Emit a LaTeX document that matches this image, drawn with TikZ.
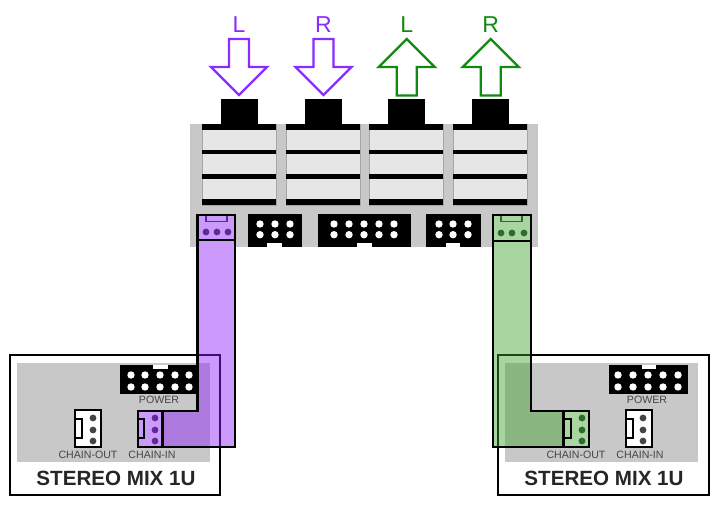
\documentclass[tikz,border=0pt]{standalone}
\usepackage{fontspec}
\setmainfont{Liberation Sans}
\usetikzlibrary{positioning}
\definecolor{plugpurple}{HTML}{8A2BFF}
\definecolor{pluggreen}{HTML}{128A12}
\definecolor{ribbonpurple}{HTML}{8E1DFF}
\definecolor{ribbongreen}{HTML}{3EA22C}
\definecolor{lightpurple}{HTML}{CB9BFB}
\definecolor{lightgreen}{HTML}{A8D5A0}
\definecolor{darkpurple}{HTML}{5E2A96}
\definecolor{darkgreen}{HTML}{2F6B2F}
\definecolor{panelgray}{HTML}{C8C8C8}
\definecolor{cellgray}{HTML}{E6E6E6}
\definecolor{pingray}{HTML}{444444}
\tikzset{
    jacklabel/.style={font=\fontsize{23}{23}\selectfont, inner sep=0pt},
    pinlabel/.style={font=\fontsize{10.6}{10.6}\selectfont, text=pingray, inner sep=0pt},
    unitlabel/.style={font=\bfseries\fontsize{20.6}{20.6}\selectfont, text=black!85, inner sep=0pt},
    inarrow/.style={draw=plugpurple, line width=2.4pt, fill=white, miter limit=4},
    outarrow/.style={draw=pluggreen, line width=2.4pt, fill=white, miter limit=4},
    header/.style={fill=black},
    unitbox/.style={draw=black, line width=2.4pt, fill=white},
    ribbon/.style={draw=black, line width=2.2pt, fill opacity=0.45},
    socket/.style={draw=black, line width=2.2pt},
}

\begin{document}
\begin{tikzpicture}[x=1pt, y=-1pt]
    \useasboundingbox (0,0) rectangle (717,505);

    %Arrows and their labels
    \foreach \cx/\name/\txt in {239/inl/L, 323.5/inr/R} {
        \node[jacklabel, text=plugpurple] (\name) at (\cx,25) {\txt};
        \draw[inarrow] (\cx-10,39) -- (\cx+10,39) -- (\cx+10,67) -- (\cx+28,67) -- (\cx,95)
            -- (\cx-28,67) -- (\cx-10,67) -- cycle;
    }
    \foreach \cx/\name/\txt in {406.7/outl/L, 490.7/outr/R} {
        \node[jacklabel, text=pluggreen] (\name) at (\cx,25) {\txt};
        \draw[outarrow] (\cx,39) -- (\cx+28,67) -- (\cx+10,67) -- (\cx+10,95.5) -- (\cx-10,95.5)
            -- (\cx-10,67) -- (\cx-28,67) -- cycle;
    }

    %Module panel
    \fill[panelgray] (190,124) rectangle (538,247);
    \foreach \lx in {202,286,369,453} {
        \fill[black] (\lx+19,99.5) rectangle (\lx+56,124);
        \fill[cellgray] (\lx,124) rectangle (\lx+74,205);
        \draw[gray!70!white] (\lx,124) rectangle (\lx+74,205);
        \fill[black] (\lx,124) rectangle (\lx+74,130);
        \fill[black] (\lx,150) rectangle (\lx+74,154.5);
        \fill[black] (\lx,174.5) rectangle (\lx+74,178.7);
        \fill[black] (\lx,199) rectangle (\lx+74,205);
    }

    %Panel headers
    \fill[header] (248,214) rectangle (302,247);
    \fill[white] (267,243) rectangle (282,247);
    \fill[header] (318,214) rectangle (411,247);
    \fill[white] (357,243) rectangle (372,247);
    \fill[header] (426,214) rectangle (481,247);
    \fill[white] (446,243) rectangle (460,247);
    \foreach \px in {260,275,290,334,349,364,379,394,439,453,468}
        \foreach \py in {224,234.7}
            \fill[white] (\px,\py) circle (3.7);

    %Left unit
    \draw[unitbox] (10,355) rectangle (220,495);
    \fill[panelgray] (17,363) rectangle (210,462);
    \fill[black] (120,365) rectangle (199,394);
    \fill[white] (153,365) rectangle (168,369);
    \foreach \px in {131,145,160,175,189}
        \foreach \py in {375,387}
            \fill[white] (\px,\py) circle (3.7);
    \node[pinlabel] (powerl) at (159,400) {POWER};
    \draw[socket, fill=white] (75,410) rectangle (101,447);
    \draw[socket, line width=1.6pt] (75,419) rectangle (82,438);
    \foreach \py in {418,430,441}
        \fill[pingray] (93,\py) circle (3.4);
    \node[pinlabel] (outlabell) at (88,455) {CHAIN-OUT};
    \node[pinlabel] (inlabell) at (152,455) {CHAIN-IN};
    \node[unitlabel] (unitl) at (116,478) {STEREO MIX 1U};

    %Right unit
    \draw[unitbox] (498,355) rectangle (709,495);
    \fill[panelgray] (505,363) rectangle (698,462);
    \fill[black] (609,365) rectangle (688,394);
    \fill[white] (642,365) rectangle (656,369);
    \foreach \px in {618,633,648,663,678}
        \foreach \py in {375,387}
            \fill[white] (\px,\py) circle (3.7);
    \node[pinlabel] (powerr) at (647,400) {POWER};
    \draw[socket, fill=white] (626,410) rectangle (652,447);
    \draw[socket, line width=1.6pt] (626,419) rectangle (633,438);
    \foreach \py in {418,430,441}
        \fill[pingray] (643,\py) circle (3.4);
    \node[pinlabel] (outlabelr) at (576,455) {CHAIN-OUT};
    \node[pinlabel] (inlabelr) at (640,455) {CHAIN-IN};
    \node[unitlabel] (unitr) at (604,478) {STEREO MIX 1U};

    %Purple ribbon
    \fill[white] (197.5,240) rectangle (235,247);
    \draw[ribbon, fill=ribbonpurple] (197.5,240) -- (235,240) -- (235,447) -- (138,447)
        -- (138,411) -- (197.5,411) -- cycle;
    \draw[socket, fill=lightpurple] (197.5,215) rectangle (235,240);
    \draw[line width=1.6pt, draw=darkpurple] (206,215.5) -- (206,221.5) -- (227,221.5) -- (227,215.5);
    \foreach \px in {206,217,228}
        \fill[darkpurple] (\px,232) circle (3.4);
    \draw[socket, fill=lightpurple] (138,411) rectangle (162.5,447);
    \draw[socket, line width=1.6pt] (138,419) -- (144,419) -- (144,438) -- (138,438);
    \foreach \py in {418,430,441}
        \fill[darkpurple] (155,\py) circle (3.4);

    %Green ribbon
    \fill[white] (493,241) rectangle (531,247);
    \draw[ribbon, fill=ribbongreen] (493,241) -- (531,241) -- (531,411) -- (563.5,411)
        -- (563.5,447) -- (493,447) -- cycle;
    \draw[socket, fill=lightgreen] (493,215) rectangle (531,241);
    \draw[line width=1.6pt, draw=darkgreen] (501,215.5) -- (501,221.5) -- (522,221.5) -- (522,215.5);
    \foreach \px in {501,512,524}
        \fill[darkgreen] (\px,233) circle (3.4);
    \draw[socket, fill=lightgreen] (563.5,411) rectangle (589,447);
    \draw[socket, line width=1.6pt] (563.5,419) -- (571,419) -- (571,438) -- (563.5,438);
    \foreach \py in {418,430,441}
        \fill[darkgreen] (582,\py) circle (3.4);
\end{tikzpicture}
\end{document}
